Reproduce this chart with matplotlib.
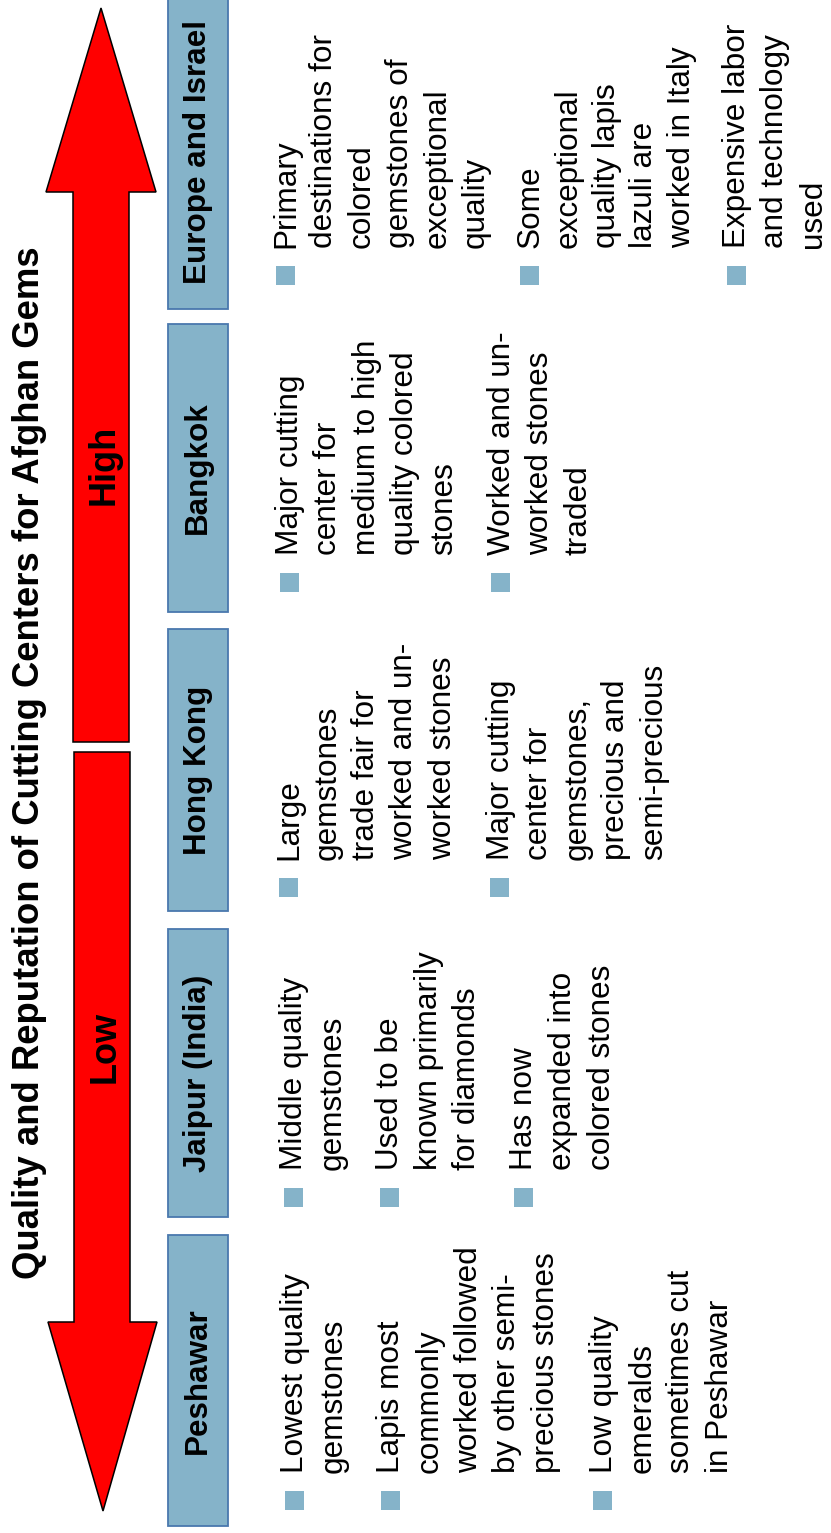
import matplotlib.pyplot as plt
from matplotlib.patches import Polygon, Rectangle

plt.rcParams['font.family'] = ['Liberation Sans', 'DejaVu Sans']

title = 'Quality and Reputation of Cutting Centers for Afghan Gems'
scale_low = 'Low'
scale_high = 'High'

centers = ['Peshawar', 'Jaipur (India)', 'Hong Kong', 'Bangkok', 'Europe and Israel']

# bullet points per center, already wrapped into lines
notes_peshawar = [['Lowest quality', 'gemstones'],
                  ['Lapis most', 'commonly', 'worked followed', 'by other semi-', 'precious stones'],
                  ['Low quality', 'emeralds', 'sometimes cut', 'in Peshawar']]
notes_jaipur = [['Middle quality', 'gemstones'],
                ['Used to be', 'known primarily', 'for diamonds'],
                ['Has now', 'expanded into', 'colored stones']]
notes_hongkong = [['Large', 'gemstones', 'trade fair for', 'worked and un-', 'worked stones'],
                  ['Major cutting', 'center for', 'gemstones,', 'precious and', 'semi-precious']]
notes_bangkok = [['Major cutting', 'center for', 'medium to high', 'quality colored', 'stones'],
                 ['Worked and un-', 'worked stones', 'traded']]
notes_europe = [['Primary', 'destinations for', 'colored', 'gemstones of', 'exceptional', 'quality'],
                ['Some', 'exceptional', 'quality lapis', 'lazuli are', 'worked in Italy'],
                ['Expensive labor', 'and technology', 'used']]
notes = [notes_peshawar, notes_jaipur, notes_hongkong, notes_bangkok, notes_europe]

# layout in pixels (x to the right, y downward)
box_spans = [(1235, 1526), (929, 1217), (629, 911), (324, 612), (-5, 309)]
text_start = [1473, 1170, 860, 555, 248]
first_base = [303, 302, 297, 298, 294]
pitch = [38.7, 38.5, 38.5, 38.5, 38.0]
para_gap = [19, 19, 19, 19, 16.5]

RED = '#FF0000'
BOX = '#85B3C9'
BOX_EDGE = '#4A78AE'

fig = plt.figure(figsize=(8.31, 15.33), dpi=100)
ax = fig.add_axes([0, 0, 1, 1])
ax.set_xlim(0, 831)
ax.set_ylim(1533, 0)
ax.axis('off')

# title along the left edge
ax.text(39, 763, title, rotation=90, rotation_mode='anchor', ha='center', va='baseline',
        fontsize=26.3, fontweight='bold')

# low / high arrows
low = [(74, 752), (130, 752), (130, 1322), (157, 1322), (103, 1511), (48, 1322), (74, 1322)]
high = [(73, 742), (129, 742), (129, 192), (156, 192), (101, 8), (46, 192), (73, 192)]
for pts in (low, high):
    ax.add_patch(Polygon(pts, closed=True, facecolor=RED, edgecolor='black', lw=1.1, joinstyle='miter'))
ax.text(105, 1047, scale_low, rotation=90, ha='center', va='center', fontsize=26, fontweight='bold')
ax.text(104, 465, scale_high, rotation=90, ha='center', va='center', fontsize=26, fontweight='bold')

for i, name in enumerate(centers):
    y0, y1 = box_spans[i]
    ax.add_patch(Rectangle((168, y0), 60, y1 - y0, facecolor=BOX, edgecolor=BOX_EDGE, lw=1.3))
    ax.text(198, (y0 + y1) / 2, name, rotation=90, ha='center', va='center',
            fontsize=22.6, fontweight='bold')

    k = 0
    for p, para in enumerate(notes[i]):
        bx = first_base[i] + k * pitch[i] + p * para_gap[i]
        ax.add_patch(Rectangle((bx - 18.5, text_start[i] + 18), 19, 19, facecolor=BOX, edgecolor='none'))
        for line in para:
            x = first_base[i] + k * pitch[i] + p * para_gap[i]
            ax.text(x, text_start[i], line, rotation=90, rotation_mode='anchor',
                    ha='left', va='baseline', fontsize=22.7)
            k += 1

fig.savefig('out.png', dpi=100)
